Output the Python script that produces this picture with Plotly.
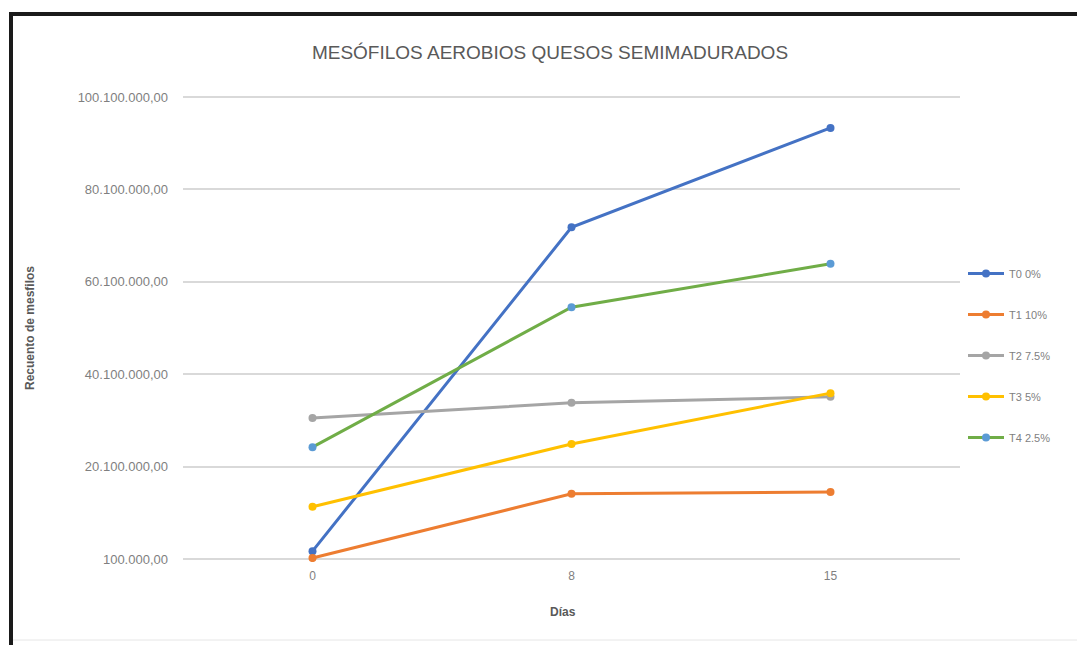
import plotly.graph_objects as go

dias = ["0", "8", "15"]
series_names = ["T0 0%", "T1 10%", "T2 7.5%", "T3 5%", "T4 2.5%"]
t0 = [1.8e6, 71.9e6, 93.4e6]
t1 = [0.3e6, 14.2e6, 14.6e6]
t2 = [30.6e6, 33.9e6, 35.2e6]
t3 = [11.4e6, 25.0e6, 36.0e6]
t4 = [24.3e6, 54.6e6, 64.0e6]
values = [t0, t1, t2, t3, t4]
line_colors = ["#4472C4", "#ED7D31", "#A5A5A5", "#FFC000", "#70AD47"]
marker_colors = ["#4472C4", "#ED7D31", "#A5A5A5", "#FFC000", "#5B9BD5"]
y_ticks = [100000, 20100000, 40100000, 60100000, 80100000, 100100000]
y_ticktext = ["100.000,00", "20.100.000,00", "40.100.000,00", "60.100.000,00",
              "80.100.000,00", "100.100.000,00"]

fig = go.Figure()
for name, vals, lc, mc in zip(series_names, values, line_colors, marker_colors):
    fig.add_trace(go.Scatter(
        x=dias, y=vals, name=name, mode="lines+markers", legendgroup=name,
        line=dict(color=lc, width=3),
        marker=dict(color=mc, size=8, line=dict(width=0)),
    ))

W, H = 1077, 645
L, R, T, B = 183, 960, 94, 562
pw, ph = R - L, B - T
def px(x):
    return (x - L) / pw
def py(y):
    return (B - y) / ph

font_main = "Liberation Sans Narrow, Arial Narrow, Liberation Sans, sans-serif"
pad = 650000

fig.update_layout(
    width=W, height=H,
    margin=dict(l=L, r=W - R, t=T, b=H - B),
    paper_bgcolor="white", plot_bgcolor="white",
    showlegend=True,
    legend=dict(x=px(963), y=py(259), xanchor="left", yanchor="top",
                tracegroupgap=22, font=dict(size=11, color="#7f7f7f", family=font_main),
                itemwidth=36),
    title=dict(text="MESÓFILOS AEROBIOS QUESOS SEMIMADURADOS",
               x=px(550), xref="paper", y=1 - 52 / H, yanchor="middle", xanchor="center",
               font=dict(size=19, color="#595959", family=font_main)),
    xaxis=dict(type="category", range=[-0.5, 2.5], showgrid=False, zeroline=False,
               showline=False, ticks="", ticklabelstandoff=5,
               tickfont=dict(size=12, color="#7f7f7f", family=font_main)),
    yaxis=dict(range=[100000 - pad, 100100000 + pad], tickvals=y_ticks, ticktext=y_ticktext,
               showgrid=True, gridcolor="#D9D9D9", gridwidth=1.5, zeroline=False,
               showline=False, ticks="", ticklabelstandoff=14,
               tickfont=dict(size=13, color="#7f7f7f", family=font_main)),
    font=dict(family=font_main),
)

fig.add_annotation(text="<b>Recuento de mesfilos</b>", xref="paper", yref="paper",
                   x=px(30), y=py(328), textangle=-90, showarrow=False,
                   xanchor="center", yanchor="middle",
                   font=dict(size=12, color="#595959", family="Liberation Sans, Arial, sans-serif"))
fig.add_annotation(text="<b>Días</b>", xref="paper", yref="paper",
                   x=px(563), y=py(612), showarrow=False, xanchor="center", yanchor="middle",
                   font=dict(size=12, color="#595959", family=font_main))

# black frame at top and left
fig.add_shape(type="line", xref="paper", yref="paper", x0=px(9), x1=px(1077),
              y0=py(14), y1=py(14), line=dict(color="#1a1a1a", width=4))
fig.add_shape(type="line", xref="paper", yref="paper", x0=px(11), x1=px(11),
              y0=py(12), y1=py(645), line=dict(color="#1a1a1a", width=4))
fig.add_shape(type="line", xref="paper", yref="paper", x0=px(13), x1=px(1077),
              y0=py(640), y1=py(640), line=dict(color="#e6e6e6", width=1))

fig.write_html("out.html")
